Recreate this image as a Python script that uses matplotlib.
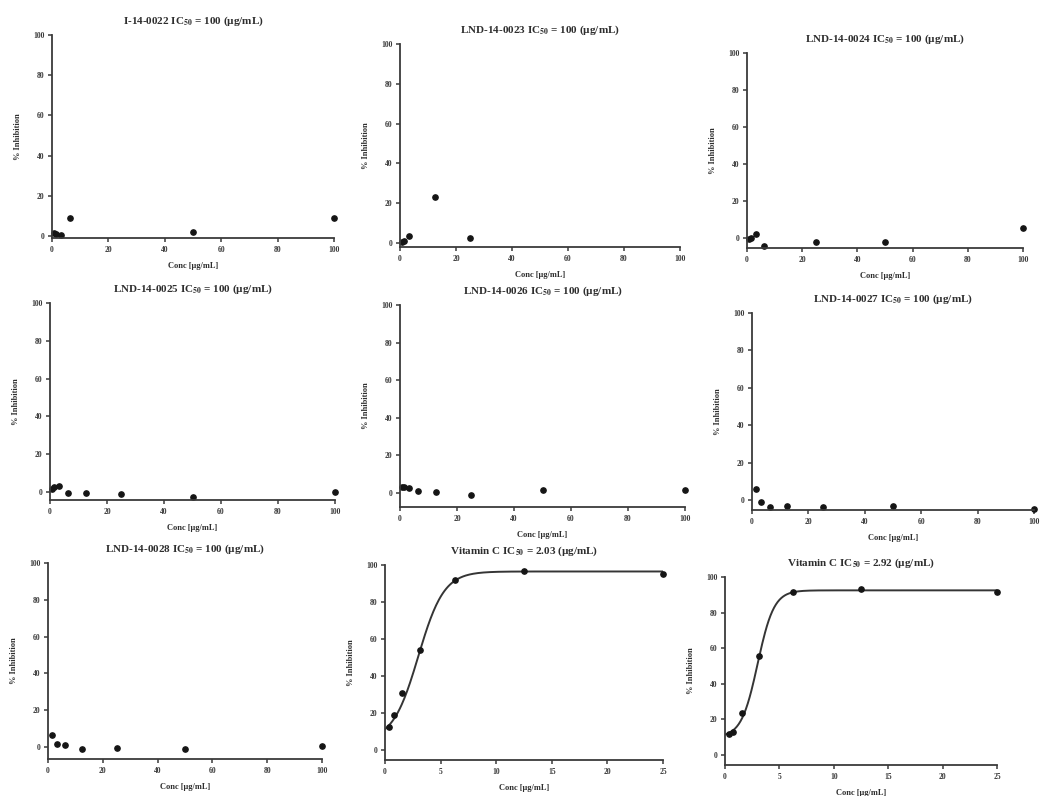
import numpy as np
import matplotlib.pyplot as plt

plt.rcParams['font.family'] = ['Liberation Serif', 'DejaVu Serif']
plt.rcParams['mathtext.fontset'] = 'stix'

# concentrations (ug/mL)
conc = [0.78, 1.56, 3.125, 6.25, 12.5, 25, 50, 100]
vitc_conc = [0.39, 0.78, 1.56, 3.125, 6.25, 12.5, 25]

# % inhibition (nan = point not visible)
inh_0022 = [1.5, 1.0, 0.5, 9.0, np.nan, np.nan, 2.0, 9.0]
inh_0023 = [0.5, 1.0, 3.5, np.nan, 23.0, 2.5, np.nan, np.nan]
inh_0024 = [-0.5, 0.0, 2.0, -4.5, np.nan, -2.2, -2.3, 5.5]
inh_0025 = [1.5, 2.5, 3.0, -0.5, -0.5, -1.2, -2.7, 0.0]
inh_0026 = [3.2, 3.0, 2.5, 0.9, 0.4, -0.9, 1.8, 1.8]
inh_0027 = [np.nan, 6.0, -1.2, -3.6, -3.0, -3.6, -3.2, -5.0]
inh_0028 = [np.nan, 6.3, 1.8, 0.9, -1.3, -0.5, -1.3, 0.4]
vitc_a = [12.5, 19.0, 31.0, 54.0, 92.0, 97.0, 95.0]
vitc_b = [12.0, 13.0, 23.5, 55.5, 91.6, 93.0, 91.6]

# sigmoid fits as drawn: bottom, top, midpoint, width
fit_a = [5.0, 96.5, 3.0, 1.15]
fit_b = [10.0, 92.5, 3.0, 0.75]

names = ['I-14-0022', 'LND-14-0023', 'LND-14-0024', 'LND-14-0025', 'LND-14-0026',
         'LND-14-0027', 'LND-14-0028', 'Vitamin C', 'Vitamin C']
ic50 = ['100', '100', '100', '100', '100', '100', '100', '2.03', '2.92']

series = [inh_0022, inh_0023, inh_0024, inh_0025, inh_0026, inh_0027, inh_0028, vitc_a, vitc_b]
fits = [None] * 7 + [fit_a, fit_b]

# axes boxes in pixels: left, right, top(=100), bottom, ymin
boxes = [(52, 334, 35, 238, -1), (400, 680, 44, 247, -2), (747, 1023, 53, 248, -5.4),
         (50, 335, 303, 500, -4.2), (400, 685, 305, 507, -7.4), (752, 1034, 313, 510, -5.3),
         (48, 322, 563, 759, -6.5), (385, 663, 565, 760, -5.4), (725, 997, 577, 765, -5.6)]

W, H = 1042, 796
fig = plt.figure(figsize=(W / 100, H / 100), dpi=100)
txt = '#2e2e2e'

for i in range(9):
    L, R, T, B, ymin = boxes[i]
    ax = fig.add_axes([L / W, 1 - B / H, (R - L) / W, (B - T) / H])
    vit = fits[i] is not None
    x = vitc_conc if vit else conc
    xmax = 25 if vit else 100
    if vit:
        b, t, x0, s = fits[i]
        xs = np.linspace(0, xmax, 300)
        ax.plot(xs, b + (t - b) / (1 + np.exp(-(xs - x0) / s)), color='#353535', lw=1.4)
    ax.plot(x, series[i], 'o', color='#151515', ms=3.8, clip_on=False)
    ax.set_xlim(0, xmax)
    ax.set_ylim(ymin, 100)
    ax.set_xticks(np.arange(0, xmax + 1, 5 if vit else 20))
    ax.set_yticks(np.arange(0, 101, 20))
    for sp in ['top', 'right']:
        ax.spines[sp].set_visible(False)
    for sp in ['left', 'bottom']:
        ax.spines[sp].set_linewidth(1.3)
        ax.spines[sp].set_color('#3a3a3a')
    ax.tick_params(length=3, width=1.1, labelsize=5.5, colors='#3a3a3a', pad=2.5)
    for lab in ax.get_xticklabels() + ax.get_yticklabels():
        lab.set_fontweight('bold')
    ax.set_title(names[i] + r' IC$_{\mathbf{50}}$ = ' + ic50[i] + ' (\u00b5g/mL)', fontsize=8,
                 fontweight='bold', color=txt, pad=8)
    ax.set_xlabel('Conc [\u00b5g/mL]', fontsize=6, fontweight='bold', color=txt, labelpad=6)
    ax.set_ylabel('% Inhibition', fontsize=6, fontweight='bold', color=txt, labelpad=8)

fig.savefig('out.png', dpi=100, facecolor='white')
